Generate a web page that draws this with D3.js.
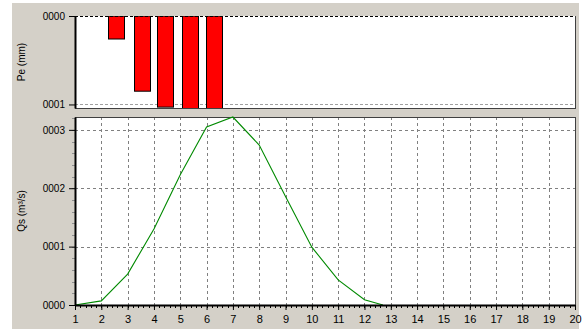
<!DOCTYPE html>
<html>
<head>
<meta charset="utf-8">
<script src="https://cdn.jsdelivr.net/npm/d3@7"></script>
<style>
  body { margin: 0; background: #fff; }
  text { font-family: "Liberation Sans", Arial, sans-serif; font-size: 10px; fill: #000; }
</style>
</head>
<body>
<script>
// rainfall bars (top panel)
const rainX = [2.58, 3.55, 4.44, 5.37, 6.28];
const rainVal = [0.26, 0.85, 1.03, 1.1, 1.1];
// runoff hydrograph (bottom panel)
const flowX = [1, 2, 3, 4, 5, 6, 7, 8, 9, 10, 11, 12, 12.7];
const flowVal = [0, 0.07, 0.53, 1.3, 2.23, 3.05, 3.22, 2.74, 1.86, 0.99, 0.43, 0.09, 0];
const xTicks = d3.range(1, 21);
const rainTicks = [0, 1];
const flowTicks = [0, 1, 2, 3];

const width = 587, height = 329;
const left = 75, right = 575;

const svg = d3.select("body").append("svg")
  .attr("width", width)
  .attr("height", height);

svg.append("rect").attr("width", width).attr("height", height).attr("fill", "#fff");
svg.append("rect").attr("x", 12).attr("y", 3).attr("width", 567).attr("height", 326).attr("fill", "#d4d0c8");

const x = d3.scaleLinear().domain([1, 20]).range([left, right]);
const yRain = d3.scaleLinear().domain([0, 1.04]).range([16, 108]);
const yFlow = d3.scaleLinear().domain([0, 3.22]).range([305, 117]);
const fmt = d3.format("04d");

// ---------- top panel ----------
const topPanel = svg.append("g");
topPanel.append("rect").attr("x", left).attr("y", 16).attr("width", right - left).attr("height", 92)
  .attr("fill", "#fff");
topPanel.append("clipPath").attr("id", "clipTop")
  .append("rect").attr("x", left).attr("y", 16).attr("width", right - left).attr("height", 92);

topPanel.append("g")
  .selectAll("line").data(rainTicks.filter(d => d > 0)).join("line")
  .attr("x1", left).attr("x2", right)
  .attr("y1", d => Math.round(yRain(d)) + 0.5).attr("y2", d => Math.round(yRain(d)) + 0.5)
  .attr("stroke", "#a0a0a0").attr("stroke-dasharray", "3,2");

topPanel.append("g").attr("clip-path", "url(#clipTop)")
  .selectAll("rect").data(rainX).join("rect")
  .attr("x", d => Math.round(x(d - 0.32)) + 0.5)
  .attr("y", yRain(0))
  .attr("width", 16)
  .attr("height", (d, i) => yRain(rainVal[i]) - yRain(0))
  .attr("fill", "#ff0000").attr("stroke", "#000");

// frame
topPanel.append("line").attr("x1", left).attr("x2", right).attr("y1", 16.5).attr("y2", 16.5)
  .attr("stroke", "#000").attr("stroke-dasharray", "3,2");
topPanel.append("line").attr("x1", left).attr("x2", right + 1).attr("y1", 108.5).attr("y2", 108.5)
  .attr("stroke", "#404040");
topPanel.append("line").attr("x1", right + 0.5).attr("x2", right + 0.5).attr("y1", 16).attr("y2", 109)
  .attr("stroke", "#404040");

const yAxisTop = d3.axisLeft(yRain).tickValues(rainTicks).tickFormat(fmt)
  .tickSize(6).tickSizeOuter(0).tickPadding(4);
const gyt = topPanel.append("g").attr("transform", `translate(${left},0)`).call(yAxisTop);
gyt.select(".domain").attr("stroke", "#000").attr("stroke-width", 2);
gyt.selectAll("text").style("font-family", "Liberation Sans, Arial, sans-serif").style("font-size", "10px");

topPanel.append("text").attr("transform", `translate(25,${(16 + 108) / 2}) rotate(-90)`)
  .attr("text-anchor", "middle").text("Pe (mm)");

// ---------- bottom panel ----------
const bot = svg.append("g");
bot.append("rect").attr("x", left).attr("y", 117).attr("width", right - left).attr("height", 188)
  .attr("fill", "#fff");

bot.append("g").selectAll("line").data(xTicks.slice(1, -1)).join("line")
  .attr("x1", d => Math.round(x(d)) + 0.5).attr("x2", d => Math.round(x(d)) + 0.5)
  .attr("y1", 117).attr("y2", 305)
  .attr("stroke", "#808080").attr("stroke-dasharray", "3,3");
bot.append("g").selectAll("line").data(flowTicks.slice(1)).join("line")
  .attr("x1", left).attr("x2", right)
  .attr("y1", d => Math.round(yFlow(d)) + 0.5).attr("y2", d => Math.round(yFlow(d)) + 0.5)
  .attr("stroke", "#808080").attr("stroke-dasharray", "3,3");

bot.append("line").attr("x1", left).attr("x2", right + 1).attr("y1", 117.5).attr("y2", 117.5)
  .attr("stroke", "#404040");
bot.append("line").attr("x1", right + 0.5).attr("x2", right + 0.5).attr("y1", 117).attr("y2", 305)
  .attr("stroke", "#404040");

const line = d3.line().x((d, i) => x(flowX[i])).y(d => yFlow(d));
bot.append("path").datum(flowVal)
  .attr("d", line)
  .attr("fill", "none").attr("stroke", "#008a00").attr("stroke-width", 1.1);

// minor ticks
bot.append("g").selectAll("line").data(d3.range(1, 20.01, 0.2)).join("line")
  .attr("x1", d => Math.round(x(d)) + 0.5).attr("x2", d => Math.round(x(d)) + 0.5)
  .attr("y1", 305).attr("y2", 308)
  .attr("stroke", "#000");
bot.append("g").selectAll("line").data(d3.range(0, 3.21, 0.2)).join("line")
  .attr("x1", left - 3).attr("x2", left)
  .attr("y1", d => Math.round(yFlow(d)) + 0.5).attr("y2", d => Math.round(yFlow(d)) + 0.5)
  .attr("stroke", "#909090");

const xAxis = d3.axisBottom(x).tickValues(xTicks).tickFormat(d3.format("d"))
  .tickSize(5).tickSizeOuter(0).tickPadding(5);
const gx = bot.append("g").attr("transform", "translate(0,305)").call(xAxis);
gx.select(".domain").attr("stroke", "#000").attr("stroke-width", 2);
gx.selectAll("text").style("font-family", "Liberation Sans, Arial, sans-serif").style("font-size", "11px");

const yAxisBot = d3.axisLeft(yFlow).tickValues(flowTicks).tickFormat(fmt)
  .tickSize(6).tickSizeOuter(0).tickPadding(4);
const gyb = bot.append("g").attr("transform", `translate(${left},0)`).call(yAxisBot);
gyb.select(".domain").attr("stroke", "#000").attr("stroke-width", 2);
gyb.selectAll("text").style("font-family", "Liberation Sans, Arial, sans-serif").style("font-size", "10px");

bot.append("text").attr("transform", `translate(25,${(117 + 305) / 2}) rotate(-90)`)
  .attr("text-anchor", "middle").text("Qs (m³/s)");
</script>
</body>
</html>
